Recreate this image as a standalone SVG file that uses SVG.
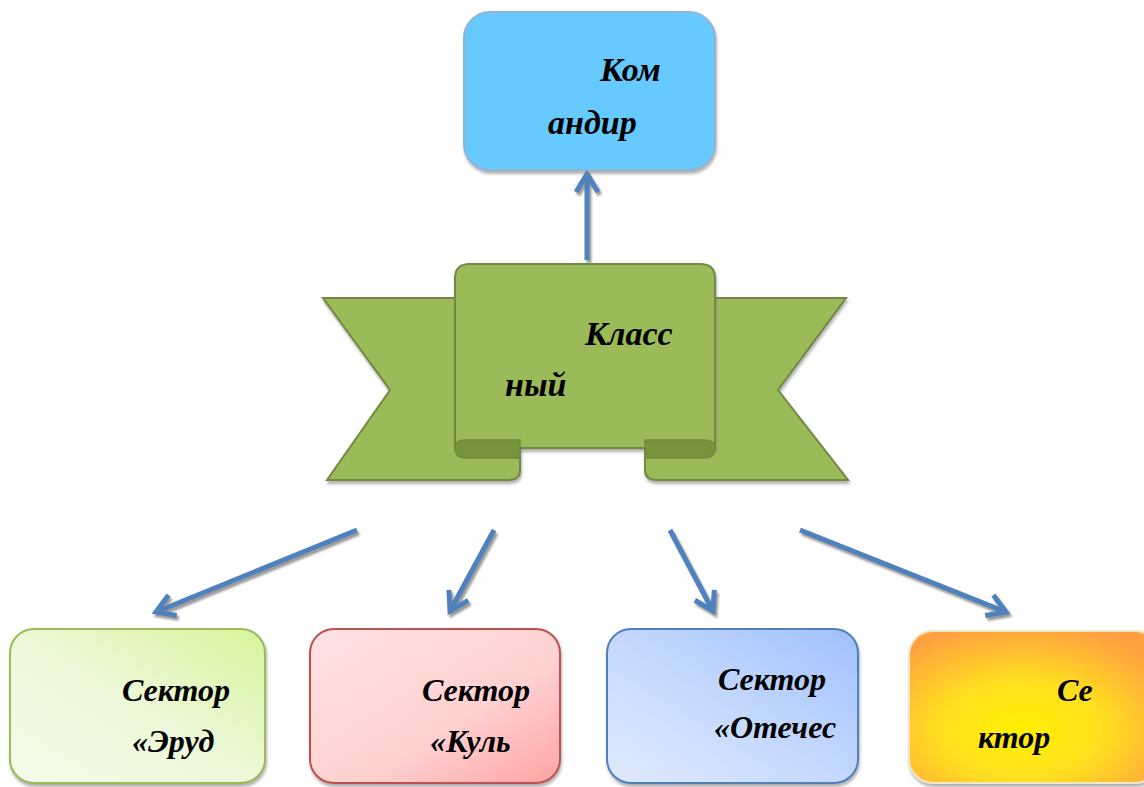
<svg xmlns="http://www.w3.org/2000/svg" width="1144" height="787" viewBox="0 0 1144 787">
<style>
.t{font-family:"Liberation Serif","DejaVu Serif",serif;font-weight:bold;font-style:italic;font-size:34px;fill:#000}
.s{font-size:32px}
.c{fill:none;stroke:#4F81BD;stroke-width:5;marker-end:url(#ah)}
</style>
<defs>
<filter id="sh" x="-20%" y="-20%" width="140%" height="140%"><feDropShadow dx="2" dy="3" stdDeviation="1" flood-color="#808080" flood-opacity="0.8"/></filter>
<filter id="bs" x="-10%" y="-10%" width="120%" height="120%"><feDropShadow dx="1" dy="3" stdDeviation="1.5" flood-color="#7f7f7f" flood-opacity="0.6"/></filter>
<marker id="ah" markerUnits="userSpaceOnUse" markerWidth="30" markerHeight="30" viewBox="-24 -15 30 30" refX="0" refY="0" orient="auto">
<path d="M-18,-11 L0,0 L-18,11" fill="none" stroke="#4F81BD" stroke-width="5"/>
</marker>
<linearGradient id="g1" x1="0" y1="1" x2="1" y2="0"><stop offset="0" stop-color="#F4FBEA"/><stop offset="0.5" stop-color="#ECF8D8"/><stop offset="1" stop-color="#D6F59A"/></linearGradient>
<linearGradient id="g2" x1="0" y1="0" x2="1" y2="1"><stop offset="0" stop-color="#FFE3E3"/><stop offset="0.6" stop-color="#FFD0D0"/><stop offset="1" stop-color="#FFA4A4"/></linearGradient>
<linearGradient id="g3" x1="0" y1="1" x2="1" y2="0"><stop offset="0" stop-color="#E0EAFE"/><stop offset="0.5" stop-color="#C4D8FE"/><stop offset="1" stop-color="#A0C0FC"/></linearGradient>
<radialGradient id="g4" cx="0.45" cy="0.65" r="0.7"><stop offset="0" stop-color="#FFF000"/><stop offset="0.45" stop-color="#FFE020"/><stop offset="1" stop-color="#FFA040"/></radialGradient>
</defs>

<g id="connectors" filter="url(#sh)">
<line class="c" x1="587" y1="260" x2="587" y2="174"/>
<line class="c" x1="357" y1="530" x2="156" y2="612"/>
<line class="c" x1="494" y1="530" x2="450" y2="611"/>
<line class="c" x1="670" y1="530" x2="713" y2="611"/>
<line class="c" x1="800" y1="530" x2="1006" y2="612"/>
</g>

<g id="node-komandir">
<rect x="464" y="12" width="251" height="158" rx="26" fill="#66CAFE" stroke="#8FB4D8" stroke-width="2" filter="url(#bs)"/>
<text class="t" x="600" y="81">Ком</text>
<text class="t" x="548" y="134">андир</text>
</g>

<g id="node-klassny">
<path d="M323,298 L470,298 L470,440 L520,440 L520,470 Q520,480 508,480 L327,480 L390,390 Z" fill="#9BBB59" stroke="#71893F" stroke-width="2" filter="url(#bs)"/>
<path d="M846,298 L700,298 L700,440 L645,440 L645,470 Q645,480 657,480 L848,480 L778,390 Z" fill="#9BBB59" stroke="#71893F" stroke-width="2" filter="url(#bs)"/>
<path d="M455,448 L455,278 Q455,264 470,264 L700,264 Q715,264 715,278 L715,448 Z" fill="#9BBB59" stroke="#71893F" stroke-width="2" filter="url(#bs)"/>
<path d="M455,448 Q455,440 466,440 L520,440 L520,458 L466,458 Q455,458 455,448 Z" fill="#77933C" stroke="#71893F" stroke-width="1.5"/>
<path d="M715,448 Q715,440 704,440 L645,440 L645,458 L704,458 Q715,458 715,448 Z" fill="#77933C" stroke="#71893F" stroke-width="1.5"/>
<text class="t" x="585" y="345">Класс</text>
<text class="t" x="505" y="396">ный</text>
</g>

<g id="node-erud">
<rect x="10" y="629" width="255" height="154" rx="24" fill="url(#g1)" stroke="#9BBB59" stroke-width="2" filter="url(#bs)"/>
<text class="t s" x="122" y="701">Сектор</text>
<text class="t s" x="132" y="752">«Эруд</text>
</g>

<g id="node-kult">
<rect x="310" y="629" width="250" height="154" rx="24" fill="url(#g2)" stroke="#C0504D" stroke-width="2" filter="url(#bs)"/>
<text class="t s" x="422" y="701">Сектор</text>
<text class="t s" x="430" y="752">«Куль</text>
</g>

<g id="node-otech">
<rect x="607" y="629" width="251" height="154" rx="24" fill="url(#g3)" stroke="#4F81BD" stroke-width="2" filter="url(#bs)"/>
<text class="t s" x="718" y="690">Сектор</text>
<text class="t s" x="714" y="738">«Отечес</text>
</g>

<g id="node-sector4">
<rect x="909" y="631" width="250" height="152" rx="24" fill="url(#g4)" stroke="#F2E6C8" stroke-width="2" filter="url(#bs)"/>
<text class="t s" x="1057" y="701">Се</text>
<text class="t s" x="978" y="748">ктор</text>
</g>
</svg>
